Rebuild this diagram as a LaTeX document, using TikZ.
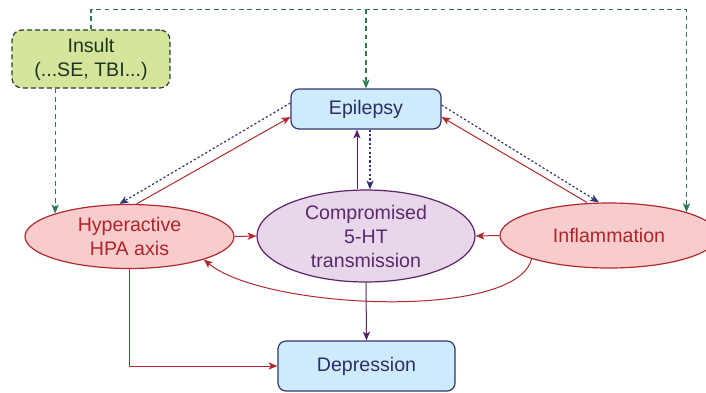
\documentclass[tikz,border=0pt]{standalone}
\usepackage{fontspec}
\setmainfont{Liberation Sans}
\usetikzlibrary{shapes.geometric,arrows.meta,calc}

\definecolor{hpared}{HTML}{B22A2E}
\definecolor{hpafill}{HTML}{F8CBCC}
\definecolor{hpatext}{HTML}{AE252B}
\definecolor{htline}{HTML}{5C236A}
\definecolor{htfill}{HTML}{E8D6EA}
\definecolor{httext}{HTML}{5B2A6E}
\definecolor{epiline}{HTML}{34346F}
\definecolor{epifill}{HTML}{CDEBFA}
\definecolor{epitext}{HTML}{2E2C6B}
\definecolor{insline}{HTML}{2D3F2D}
\definecolor{insfill}{HTML}{D5E59B}
\definecolor{instext}{HTML}{1E3320}
\definecolor{insarrow}{HTML}{2A7A4A}

\tikzset{
  every node/.style={font=\fontsize{9.8}{12}\selectfont},
  box/.style={rectangle, rounded corners=4pt, draw=epiline, fill=epifill, text=epitext, line width=0.6pt, align=center, inner sep=0pt},
  oval/.style={ellipse, line width=0.6pt, align=center, inner sep=0pt},
  tip/.style={-{Stealth[length=4.4pt,width=3.6pt,inset=1.1pt]}},
  redarrow/.style={tip, draw=hpared, line width=0.5pt},
  purplearrow/.style={tip, draw=htline, line width=0.5pt},
  dotarrow/.style={tip, draw=epiline, line width=0.6pt, dash pattern=on 1.1pt off 1.1pt},
  insultarrow/.style={tip, draw=insarrow, line width=0.6pt, dash pattern=on 2.4pt off 1.8pt}
}

\begin{document}
\begin{tikzpicture}[x=0.5pt,y=-0.5pt]
	\useasboundingbox (0,0) rectangle (706,392);

	% boxes
	\node[box, rounded corners=5pt, draw=insline, fill=insfill, text=instext, dash pattern=on 2.5pt off 1.5pt, minimum width=79pt, minimum height=29pt] (ins) at (91,59) {Insult\\(...SE, TBI...)};
	\node[box, minimum width=75pt, minimum height=20pt] (epi) at (366,109) {Epilepsy};
	\node[box, minimum width=88.5pt, minimum height=25pt] (dep) at (366.5,366) {Depression};

	% ellipses
	\node[oval, draw=hpared, fill=hpafill, text=hpatext, minimum width=104.5pt, minimum height=32pt] (hyp) at (129.5,236.5) {Hyperactive\\HPA axis};
	\node[oval, draw=htline, fill=htfill, text=httext, minimum width=109pt, minimum height=46pt] (comp) at (366,236) {Compromised\\5-HT\\transmission};
	\node[oval, draw=hpared, fill=hpafill, text=hpatext, minimum width=109pt, minimum height=32.5pt] (infl) at (609,235.5) {Inflammation};

	% insult arrows
	\draw[insultarrow] (ins.north) -- ++(0,-20) coordinate (top) -| (infl.north east);
	\draw[insultarrow] (top -| epi.north) -- (epi.north);
	\draw[insultarrow] (hyp.north west |- ins.south) -- (hyp.north west);

	% links with epilepsy
	\draw[redarrow] ($(hyp.north)+(7,0)$) -- ($(epi.west)+(0,8)$);
	\draw[dotarrow] ($(epi.west)+(0,-6)$) -- ($(hyp.north)+(-10,0)$);
	\draw[redarrow] ($(infl.north)+(-22,0)$) -- ($(epi.east)+(0,8)$);
	\draw[dotarrow] ($(epi.east)+(0,-4)$) -- ($(infl.north)+(-10,0)$);
	\draw[purplearrow] ($(comp.north)+(-9,0)$) -- ($(epi.south)+(-9,0)$);
	\draw[dotarrow] ($(epi.south)+(4,0)$) -- ($(comp.north)+(4,0)$);

	% links with 5-HT
	\draw[redarrow] (hyp.east) -- (comp.west);
	\draw[redarrow] (infl.west) -- (comp.east);
	\draw[redarrow] (infl.south west) .. controls +(-15,62) and +(60,50) .. (hyp.south east);

	% to depression
	\draw[redarrow] (hyp.south) |- (dep.west);
	\draw[purplearrow] (comp.south) -- (dep.north);

\end{tikzpicture}
\end{document}
